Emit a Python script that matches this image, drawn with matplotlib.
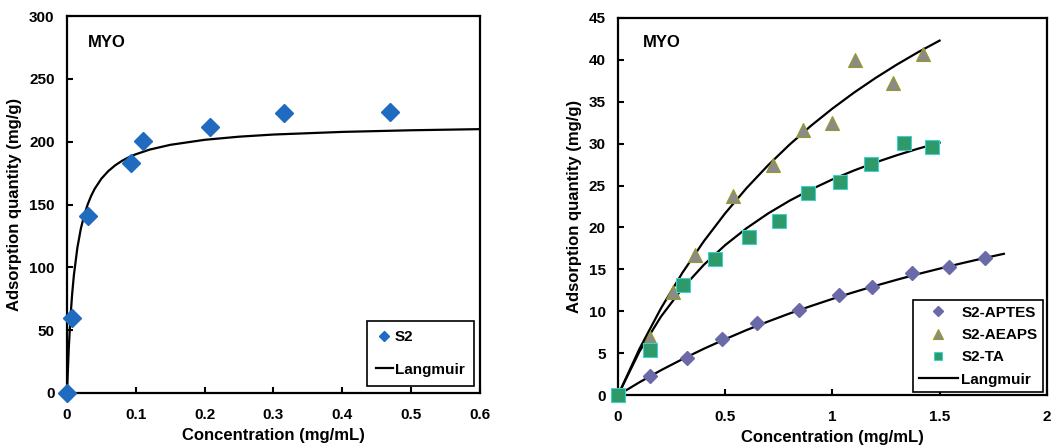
import matplotlib
matplotlib.use("Agg")
import matplotlib.pyplot as plt

plt.rcParams['font.family'] = ['Liberation Sans', 'DejaVu Sans']
plt.rcParams['font.weight'] = 'bold'

# left panel: S2 data and Langmuir curve
s2_conc = [0, 0.007, 0.030, 0.093, 0.110, 0.208, 0.315, 0.469]
s2_q = [0, 59.6, 140.5, 183, 200.4, 212, 222.6, 224]
lang1_conc = [0, 0.0025, 0.005, 0.0075, 0.01, 0.015, 0.02, 0.025, 0.03, 0.035,
              0.04, 0.05, 0.06, 0.07, 0.08, 0.09, 0.1, 0.12, 0.15, 0.2, 0.25,
              0.3, 0.4, 0.5, 0.6]
lang1_q = [0, 34.9, 60, 79.0, 93.8, 115.4, 130.5, 141.6, 150, 156.8,
           162.3, 170.6, 176.6, 181.2, 184.8, 187.7, 190, 193.7, 197.5, 201.5, 204.0,
           205.7, 207.8, 209.1, 210]

# right panel
aptes_conc = [0, 0.151, 0.322, 0.485, 0.648, 0.842, 1.029, 1.187, 1.371, 1.546, 1.713]
aptes_q = [0, 2.27, 4.46, 6.65, 8.64, 10.16, 11.95, 12.86, 14.54, 15.25, 16.41]
aeaps_conc = [0, 0.151, 0.255, 0.361, 0.536, 0.721, 0.861, 0.998, 1.106, 1.282, 1.425]
aeaps_q = [0, 6.77, 12.35, 16.73, 23.7, 27.4, 31.66, 32.46, 40.0, 37.24, 40.7]
ta_conc = [0, 0.151, 0.301, 0.451, 0.611, 0.749, 0.886, 1.037, 1.181, 1.335, 1.464]
ta_q = [0, 5.38, 13.14, 16.2, 18.84, 20.83, 24.17, 25.37, 27.56, 30.07, 29.59]

fit_conc = [0, 0.1, 0.2, 0.3, 0.4, 0.5, 0.6, 0.7, 0.8, 0.9, 1.0, 1.1, 1.2,
            1.3, 1.4, 1.5, 1.6, 1.7, 1.8]
aptes_fit = [0, 1.54, 2.97, 4.29, 5.53, 6.68, 7.77, 8.78, 9.74, 10.63, 11.48,
             12.28, 13.04, 13.76, 14.45, 15.09, 15.71, 16.3, 16.86]
aeaps_fit = [0, 5.53, 10.35, 14.59, 18.35, 21.7, 24.71, 27.42, 29.88, 32.13,
             34.18, 36.07, 37.81, 39.42, 40.91, 42.29]
ta_fit = [0, 5.21, 9.36, 12.74, 15.54, 17.9, 19.92, 21.67, 23.19, 24.53,
          25.73, 26.79, 27.75, 28.61, 29.4, 30.11]

fig = plt.figure(figsize=(10.52, 4.47), dpi=100)
ax1 = fig.add_axes([0.0637, 0.121, 0.3925, 0.843])
ax2 = fig.add_axes([0.5875, 0.116, 0.4075, 0.844])


def style(ax):
    for sp in ax.spines.values():
        sp.set_linewidth(1.6)
    ax.tick_params(direction='in', length=4, width=1.5, labelsize=11)
    ax.tick_params(axis='x', pad=11)
    ax.tick_params(axis='y', pad=9)
    for lab in ax.get_xticklabels() + ax.get_yticklabels():
        lab.set_fontweight('bold')
    ax.set_xlabel('Concentration (mg/mL)', fontsize=12, fontweight='bold', labelpad=4)
    ax.set_ylabel('Adsorption quantity (mg/g)', fontsize=12, fontweight='bold', labelpad=5)


# left
ax1.plot(s2_conc, s2_q, 'D', ms=9, color='#1E6BC0', mec='#1E6BC0',
         label='S2', clip_on=False, zorder=3)
ax1.plot(lang1_conc, lang1_q, '-', color='black', lw=1.6, label='Langmuir', zorder=2)
ax1.set_xlim(0, 0.6)
ax1.set_ylim(0, 300)
ax1.set_xticks([0, 0.1, 0.2, 0.3, 0.4, 0.5, 0.6])
ax1.set_xticklabels(['0', '0.1', '0.2', '0.3', '0.4', '0.5', '0.6'])
ax1.set_yticks(range(0, 301, 50))
style(ax1)
ax1.text(0.05, 0.93, 'MYO', transform=ax1.transAxes, fontsize=12,
         fontweight='bold', va='center')
leg1 = ax1.legend(loc='lower right', bbox_to_anchor=(0.985, 0.019), borderaxespad=0,
                  fancybox=False, edgecolor='black', framealpha=1,
                  prop={'size': 11, 'weight': 'bold'},
                  handlelength=1.1, handletextpad=0.15, borderpad=0.6,
                  labelspacing=1.2, markerscale=0.6)
leg1.get_frame().set_linewidth(1.2)

# right
ax2.plot(aptes_conc, aptes_q, 'D', ms=7.5, color='#6A6AA8', mec='#6A6AA8',
         label='S2-APTES', clip_on=False, zorder=3)
ax2.plot(aeaps_conc, aeaps_q, '^', ms=10, color='#8A8A8A', mec='#9A9A20',
         mew=0.8, label='S2-AEAPS', clip_on=False, zorder=3)
ax2.plot(ta_conc, ta_q, 's', ms=9.5, color='#2E9A6A', mec='#40D0D0',
         mew=0.8, label='S2-TA', clip_on=False, zorder=4)
ax2.plot(fit_conc, aptes_fit, '-', color='black', lw=1.6, label='Langmuir', zorder=2)
ax2.plot(fit_conc[:len(aeaps_fit)], aeaps_fit, '-', color='black', lw=1.6, zorder=2)
ax2.plot(fit_conc[:len(ta_fit)], ta_fit, '-', color='black', lw=1.6, zorder=2)
ax2.set_xlim(0, 2)
ax2.set_ylim(0, 45)
ax2.set_xticks([0, 0.5, 1, 1.5, 2])
ax2.set_xticklabels(['0', '0.5', '1', '1.5', '2'])
ax2.set_yticks(range(0, 46, 5))
style(ax2)
ax2.text(0.058, 0.934, 'MYO', transform=ax2.transAxes, fontsize=12,
         fontweight='bold', va='center')
leg2 = ax2.legend(loc='lower right', bbox_to_anchor=(0.991, 0.008), borderaxespad=0,
                  fancybox=False, edgecolor='black', framealpha=1,
                  prop={'size': 11, 'weight': 'bold'},
                  handlelength=2.6, handletextpad=0.2, borderpad=0.35,
                  labelspacing=0.55, markerscale=0.65)
leg2.get_frame().set_linewidth(1.2)

fig.savefig('out.png', dpi=100)
